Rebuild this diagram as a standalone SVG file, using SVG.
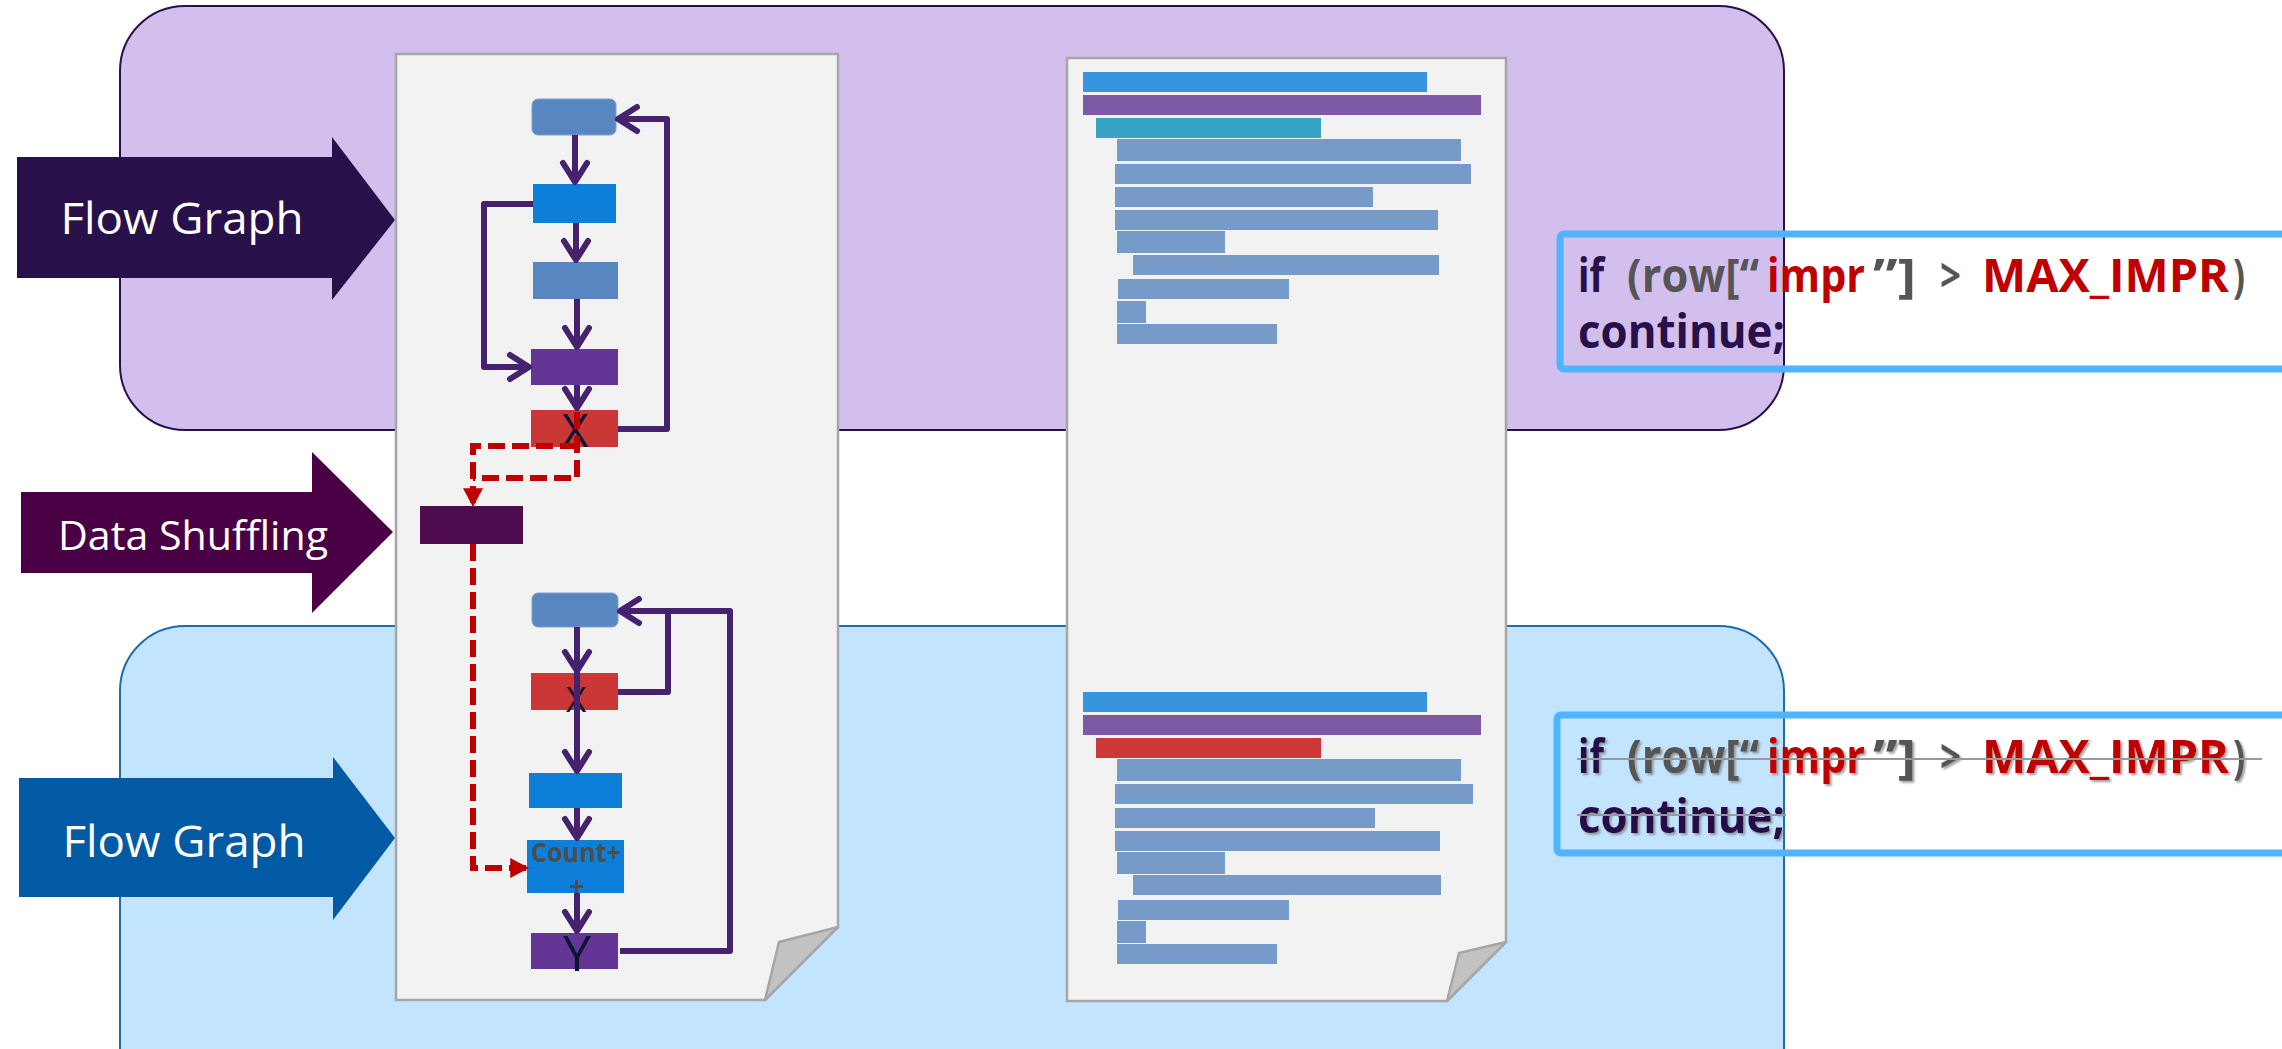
<svg xmlns="http://www.w3.org/2000/svg" width="2282" height="1049" viewBox="0 0 2282 1049">
<style>
.doc{fill:#f2f2f2;stroke:#a6a6a6;stroke-width:2.5}
.flap{fill:#c2c2c2;stroke:#a6a6a6;stroke-width:2.5;stroke-linejoin:round}
.lbl{font-family:"Open Sans","Noto Sans",sans-serif;fill:#ffffff;text-anchor:middle}
.nt{font-family:"Open Sans","Noto Sans",sans-serif;fill:#0d1533;text-anchor:middle}
.code{font-family:"Open Sans","Noto Sans",sans-serif;font-weight:bold;font-size:46px}
.dk{fill:#28104a}.gy{fill:#555555}.rd{fill:#c00000}
.flow{fill:none;stroke:#46226e;stroke-width:6;stroke-linejoin:round}
.dash{fill:none;stroke:#c00000;stroke-width:6;stroke-dasharray:17 7}
.bar{fill:#769bc9}
.box{fill:none;stroke:#4fb3ff;stroke-width:7}
</style>
<defs>
<marker id="chev" markerUnits="userSpaceOnUse" markerWidth="30" markerHeight="34" viewBox="-4 -4 30 34" refX="21" refY="13" orient="auto">
<path d="M2,1 L21,13 L2,25" fill="none" stroke="#46226e" stroke-width="6" stroke-linecap="round" stroke-linejoin="round"/>
</marker>
<marker id="tri" markerUnits="userSpaceOnUse" markerWidth="20" markerHeight="20" viewBox="0 0 17 18" refX="16" refY="9" orient="auto">
<path d="M0,0 L17,9 L0,18 Z" fill="#c00000"/>
</marker>
<filter id="sh" x="-5%" y="-20%" width="110%" height="140%">
<feDropShadow dx="2" dy="2" stdDeviation="1" flood-color="#777777" flood-opacity="0.7"/>
</filter>
</defs>

<g id="panel-top"><rect x="120" y="6" width="1664" height="424" rx="65" fill="#d3bfee" stroke="#28104a" stroke-width="2"/></g>
<g id="panel-bottom"><rect x="120" y="626" width="1664" height="500" rx="65" fill="#c3e4fd" stroke="#1e6bb0" stroke-width="2"/></g>

<g id="arrow-flow-top">
<path d="M17,157 H332 V137 L395,220 L332,300 V278 H17 Z" fill="#28104a"/>
<text class="lbl" x="182" y="234" font-size="44" textLength="243" lengthAdjust="spacingAndGlyphs">Flow Graph</text>
</g>
<g id="arrow-shuffle">
<path d="M21,492 H312 V452 L393,532 L312,613 V573 H21 Z" fill="#4a0044"/>
<text class="lbl" x="193" y="550" font-size="41" textLength="270" lengthAdjust="spacingAndGlyphs">Data Shuffling</text>
</g>
<g id="arrow-flow-bottom">
<path d="M19,778 H333 V757 L395,838 L333,920 V897 H19 Z" fill="#025aa5"/>
<text class="lbl" x="184" y="857" font-size="44" textLength="243" lengthAdjust="spacingAndGlyphs">Flow Graph</text>
</g>

<g id="doc-left">
<path class="doc" d="M396,54 H838 V927 L765,1000 H396 Z"/>
<path class="flap" d="M838,927 L779,942 L765,1000 Z"/>
</g>
<g id="doc-right">
<path class="doc" d="M1067,58 H1506 V942 L1447,1001 H1067 Z"/>
<path class="flap" d="M1506,942 L1459,953 L1447,1001 Z"/>
<rect x="1083" y="72" width="344" height="20" fill="#3894dc"/>
<rect x="1083" y="95" width="398" height="20" fill="#7e5aa6"/>
<rect x="1096" y="118" width="225" height="20" fill="#37a3c4"/>
<rect class="bar" x="1117" y="139" width="344" height="22"/>
<rect class="bar" x="1115" y="164" width="356" height="20"/>
<rect class="bar" x="1115" y="187" width="258" height="20"/>
<rect class="bar" x="1115" y="210" width="323" height="20"/>
<rect class="bar" x="1117" y="231" width="108" height="22"/>
<rect class="bar" x="1133" y="255" width="306" height="20"/>
<rect class="bar" x="1118" y="279" width="171" height="20"/>
<rect class="bar" x="1117" y="301" width="29" height="22"/>
<rect class="bar" x="1117" y="324" width="160" height="20"/>
<rect x="1083" y="692" width="344" height="20" fill="#3894dc"/>
<rect x="1083" y="715" width="398" height="20" fill="#7e5aa6"/>
<rect x="1096" y="738" width="225" height="20" fill="#cc3838"/>
<rect class="bar" x="1117" y="759" width="344" height="22"/>
<rect class="bar" x="1115" y="784" width="358" height="20"/>
<rect class="bar" x="1115" y="808" width="260" height="20"/>
<rect class="bar" x="1115" y="831" width="325" height="20"/>
<rect class="bar" x="1117" y="852" width="108" height="22"/>
<rect class="bar" x="1133" y="875" width="308" height="20"/>
<rect class="bar" x="1118" y="900" width="171" height="20"/>
<rect class="bar" x="1117" y="921" width="29" height="22"/>
<rect class="bar" x="1117" y="944" width="160" height="20"/>
</g>

<g id="node-a"><rect x="532" y="99" width="84" height="36" rx="6" fill="#5886c0" stroke="#7aa0d0" stroke-width="1"/></g>
<g id="node-b"><rect x="533" y="184" width="83" height="39" fill="#0d7fd8"/></g>
<g id="node-c"><rect x="533" y="262" width="85" height="37" fill="#5886c0"/></g>
<g id="node-d"><rect x="531" y="349" width="87" height="36" fill="#633594"/></g>
<g id="node-e"><rect x="531" y="410" width="87" height="37" fill="#cb3636"/><text class="nt" x="575" y="447" font-size="46">X</text></g>
<g id="node-shuffle"><rect x="420" y="506" width="103" height="38" fill="#4e0c4e"/></g>
<g id="node-f"><rect x="532" y="593" width="86" height="34" rx="6" fill="#5886c0" stroke="#7aa0d0" stroke-width="1"/></g>
<g id="node-g"><rect x="531" y="673" width="87" height="37" fill="#cb3636"/><text class="nt" x="576" y="712" font-size="35">X</text></g>
<g id="node-h"><rect x="529" y="773" width="93" height="35" fill="#0d7fd8"/></g>
<g id="node-i"><rect x="527" y="840" width="97" height="53" fill="#0d7fd8"/>
<text x="576" y="862" font-family="Open Sans, Noto Sans, sans-serif" font-weight="bold" font-size="26" fill="#4d4d4d" text-anchor="middle" textLength="90" lengthAdjust="spacingAndGlyphs">Count+</text>
<text x="577" y="896" font-family="Open Sans, Noto Sans, sans-serif" font-weight="bold" font-size="26" fill="#4d4d4d" text-anchor="middle">+</text></g>
<g id="node-j"><rect x="531" y="933" width="87" height="36" fill="#633594"/><text class="nt" x="577" y="971" font-size="50">Y</text></g>

<g id="connectors">
<path class="flow" d="M575,135 V182" marker-end="url(#chev)"/>
<path class="flow" d="M576,223 V260" marker-end="url(#chev)"/>
<path class="flow" d="M577,299 V347" marker-end="url(#chev)"/>
<path class="flow" d="M577,385 V408" marker-end="url(#chev)"/>
<path class="flow" d="M533,204 H484 V367 H529" marker-end="url(#chev)"/>
<path class="flow" d="M618,429 H667 V119 H618" marker-end="url(#chev)"/>
<path class="dash" d="M577,412 V478 H473"/>
<path class="dash" d="M577,446 H473 V506" marker-end="url(#tri)"/>
<path class="dash" d="M473,544 V868 H528" marker-end="url(#tri)"/>
<path class="flow" d="M577,627 V671" marker-end="url(#chev)"/>
<path class="flow" d="M577,671 V771" marker-end="url(#chev)"/>
<path class="flow" d="M618,692 H668 V611"/>
<path class="flow" d="M620,951 H730 V611 H620" marker-end="url(#chev)"/>
<path class="flow" d="M577,808 V838" marker-end="url(#chev)"/>
<path class="flow" d="M577,893 V931" marker-end="url(#chev)"/>
</g>

<g id="code-top">
<rect class="box" x="1560" y="234" width="760" height="135" rx="4"/>
<text class="code dk" x="1578" y="292" textLength="26" lengthAdjust="spacingAndGlyphs">if</text>
<text class="code gy" x="1627" y="292" textLength="132" lengthAdjust="spacingAndGlyphs">(row[“</text>
<text class="code rd" x="1767" y="292" textLength="98" lengthAdjust="spacingAndGlyphs">impr</text>
<text class="code gy" x="1873" y="292" textLength="43" lengthAdjust="spacingAndGlyphs">”]</text>
<text class="code gy" x="1940" y="292" textLength="21" lengthAdjust="spacingAndGlyphs">&gt;</text>
<text class="code rd" x="1982" y="292" textLength="247" lengthAdjust="spacingAndGlyphs">MAX_IMPR</text>
<text class="code gy" x="2233" y="292" textLength="12" lengthAdjust="spacingAndGlyphs">)</text>
<text class="code dk" x="1578" y="348" textLength="207" lengthAdjust="spacingAndGlyphs">continue;</text>
</g>

<g id="code-bottom">
<rect class="box" x="1557" y="715" width="760" height="138" rx="4"/>
<g filter="url(#sh)">
<text class="code dk" x="1578" y="773" textLength="26" lengthAdjust="spacingAndGlyphs">if</text>
<text class="code gy" x="1627" y="773" textLength="132" lengthAdjust="spacingAndGlyphs">(row[“</text>
<text class="code rd" x="1767" y="773" textLength="98" lengthAdjust="spacingAndGlyphs">impr</text>
<text class="code gy" x="1873" y="773" textLength="43" lengthAdjust="spacingAndGlyphs">”]</text>
<text class="code gy" x="1940" y="773" textLength="21" lengthAdjust="spacingAndGlyphs">&gt;</text>
<text class="code rd" x="1982" y="773" textLength="247" lengthAdjust="spacingAndGlyphs">MAX_IMPR</text>
<text class="code gy" x="2233" y="773" textLength="12" lengthAdjust="spacingAndGlyphs">)</text>
<text class="code dk" x="1578" y="833" textLength="207" lengthAdjust="spacingAndGlyphs">continue;</text>
</g>
<line x1="1577" y1="759" x2="2262" y2="759" stroke="#999999" stroke-width="2"/>
<line x1="1577" y1="815" x2="1786" y2="815" stroke="#999999" stroke-width="2"/>
</g>
</svg>
